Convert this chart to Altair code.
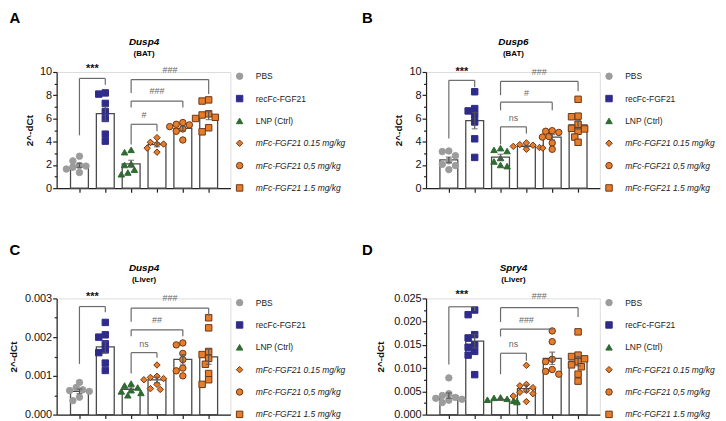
import altair as alt
import numpy as np
import pandas as pd

groups = ["PBS", "recFc-FGF21", "LNP (Ctrl)", "mFc-FGF21 0.15 mg/kg",
          "mFc-FGF21 0,5 mg/kg", "mFc-FGF21 1.5 mg/kg"]
fill_colors = ["#9c9c9c", "#2f2b8a", "#2e6b31", "#e47d2c", "#e47d2c", "#e47d2c"]
stroke_colors = ["#9c9c9c", "#2f2b8a", "#2e6b31", "#6f3614", "#6f3614", "#6f3614"]
shapes = ["circle", "square", "triangle-up", "diamond", "circle", "square"]

# ---- Panel A: Dusp4 (BAT)
a_pbs = [2.75, 2.35, 1.95, 1.9, 1.8, 1.65, 1.35]
a_rec = [8.2, 8.1, 7.3, 6.6, 6.0, 4.65, 4.05]
a_lnp = [3.3, 3.1, 2.1, 2.0, 1.6, 1.35, 1.2]
a_m015 = [4.35, 3.95, 3.8, 3.8, 3.45, 3.1]
a_m05 = [5.65, 5.5, 5.45, 5.3, 5.1, 4.9, 4.15]
a_m15 = [7.6, 7.5, 6.4, 6.3, 6.1, 6.0, 5.2, 4.85]
# bracket: group1, group2, top, left-leg end, right-leg end, label, label y
a_brackets = [(1, 2, 9.45, 4.55, 8.9, "***", 10.28),
              (3, 6, 9.35, 8.2, 8.1, "###", 10.15),
              (3, 5, 7.5, 6.95, 6.95, "###", 8.35),
              (3, 4, 5.5, 3.75, 4.9, "#", 6.3)]

# ---- Panel B: Dusp6 (BAT)
b_pbs = [3.2, 3.15, 2.8, 2.35, 2.05, 1.95, 1.6]
b_rec = [8.3, 6.85, 6.65, 6.3, 5.7, 4.25, 2.65]
b_lnp = [3.45, 3.3, 3.2, 2.6, 2.3, 2.0, 1.9]
b_m015 = [3.9, 3.75, 3.7, 3.6, 3.5, 3.45, 3.35]
b_m05 = [4.95, 4.9, 4.8, 4.45, 4.4, 3.9, 3.35]
b_m15 = [7.65, 6.2, 6.15, 5.5, 5.15, 5.1, 4.9, 4.4, 3.95]
b_brackets = [(1, 2, 9.28, 4.28, 8.68, "***", 10.0),
              (3, 6, 9.2, 8.0, 8.35, "###", 10.0),
              (3, 5, 7.4, 6.7, 6.7, "#", 8.15),
              (3, 4, 5.28, 3.77, 4.7, "ns", 6.05)]

# ---- Panel C: Dusp4 (Liver)
c_pbs = [0.00083, 0.0007, 0.00064, 0.00062, 0.0006, 0.00045, 0.00036]
c_rec = [0.00238, 0.00206, 0.002, 0.00183, 0.00167, 0.0016, 0.00133, 0.00114]
c_lnp = [0.0008, 0.00075, 0.0007, 0.00063, 0.0006, 0.00056, 0.0005]
c_m015 = [0.00128, 0.00099, 0.00096, 0.00093, 0.0009, 0.00078, 0.00067, 0.00065]
c_m05 = [0.00185, 0.0018, 0.00158, 0.00142, 0.0012, 0.00113, 0.001]
c_m15 = [0.0025, 0.00224, 0.00163, 0.00155, 0.00145, 0.0013, 0.00106, 0.0009, 0.00078]
c_brackets = [(1, 2, 0.00279, 0.00131, 0.00264, "***", 0.00303),
              (3, 6, 0.00275, 0.0024, 0.00255, "###", 0.00300),
              (3, 5, 0.00219, 0.00202, 0.00202, "##", 0.00244),
              (3, 4, 0.0016, 0.00106, 0.00147, "ns", 0.00183)]

# ---- Panel D: Spry4 (Liver)
d_pbs = [0.0079, 0.0045, 0.0041, 0.0037, 0.0035, 0.0033, 0.0031, 0.0026]
d_rec = [0.0225, 0.0215, 0.0172, 0.0165, 0.015, 0.0145, 0.0136, 0.0128, 0.0086]
d_lnp = [0.0037, 0.0036, 0.0034, 0.0032, 0.003, 0.0029, 0.0027]
d_m015 = [0.0106, 0.0065, 0.0062, 0.0058, 0.0052, 0.0048, 0.0045, 0.004, 0.0028]
d_m05 = [0.018, 0.0157, 0.0119, 0.0114, 0.0097, 0.0093, 0.0087]
d_m15 = [0.0178, 0.0128, 0.0125, 0.012, 0.0114, 0.0107, 0.0103, 0.0087, 0.0072]
d_brackets = [(1, 2, 0.0232, 0.0108, 0.0223, "***", 0.0258),
              (3, 6, 0.0230, 0.0199, 0.0210, "###", 0.0256),
              (3, 5, 0.0184, 0.0168, 0.0182, "###", 0.0203),
              (3, 4, 0.0132, 0.0087, 0.0116, "ns", 0.0152)]

PLOT_W, PLOT_H = 175, 117
X_DOMAIN = [0.31, 6.65]
AX = "#222222"


def swarm(vals, px_per_unit, dia=6.0, step=3.5):
    """Deterministic beeswarm offsets (pixels) so markers do not pile up."""
    order = sorted(range(len(vals)), key=lambda i: -vals[i])
    cands = [0.0]
    for k in range(1, 6):
        cands += [-k * step, k * step]
    placed, offs = [], [0.0] * len(vals)
    for i in order:
        ypx = vals[i] * px_per_unit
        chosen = cands[-1]
        for c in cands:
            if all((c - px) ** 2 + (ypx - py) ** 2 >= dia ** 2 for px, py in placed):
                chosen = c
                break
        placed.append((chosen, ypx))
        offs[i] = chosen
    return offs


def top_title(text, x, y, size, weight="bold", style="normal", align="center"):
    """An invisible top axis used only to carry a positioned heading."""
    return alt.Axis(orient="top", labels=False, ticks=False, domain=False, grid=False,
                    title=text, titleX=x, titleY=y, titleAngle=0, titleAlign=align,
                    titleBaseline="alphabetic", titleFontSize=size,
                    titleFontWeight=weight, titleFontStyle=style, titleColor="#000")


def panel(series, ymax, major, minor, fmt, brackets, gene, tissue, letter,
          letter_x, letter_y, title_pad):
    ppx = PLOT_W / (X_DOMAIN[1] - X_DOMAIN[0])
    ppy = PLOT_H / ymax
    prow, srow = [], []
    for gi, (g, vals) in enumerate(zip(groups, series)):
        offs = swarm(vals, ppy)
        for v, o in zip(vals, offs):
            prow.append({"group": g, "xpos": gi + 1 + o / ppx, "value": v})
        arr = np.array(vals, dtype=float)
        m = arr.mean()
        se = arr.std(ddof=1) / np.sqrt(len(arr))
        srow.append({"group": g, "xpos": gi + 1, "mean": m, "lo": m - se, "hi": m + se})
    pts = pd.DataFrame(prow)
    st = pd.DataFrame(srow)

    segs, labs = [], []
    for g1, g2, yt, yl, yr, lab, ly in brackets:
        segs += [{"x": g1, "x2": g2, "y": yt, "y2": yt},
                 {"x": g1, "x2": g1, "y": yt, "y2": yl},
                 {"x": g2, "x2": g2, "y": yt, "y2": yr}]
        labs.append({"xm": (g1 + g2) / 2, "ly": ly, "label": lab,
                     "star": lab.startswith("*")})
    segs = pd.DataFrame(segs)
    labs = pd.DataFrame(labs)

    xsc = alt.Scale(domain=X_DOMAIN, nice=False, zero=False)
    ysc = alt.Scale(domain=[0, ymax], nice=False, zero=True)

    x_axis = alt.Axis(values=[1, 2, 3, 4, 5, 6], labels=False, ticks=True, tickSize=4,
                      grid=False, title=None, domainWidth=1.2, tickWidth=1.2)
    y_axis = alt.Axis(values=major, format=fmt, tickSize=4, grid=False, title="2^-dCt",
                      titlePadding=title_pad, labelPadding=1, labelFontSize=11,
                      titleFontSize=10, titleFontWeight="bold", domainWidth=1.2,
                      tickWidth=1.2)
    y_minor = alt.Axis(values=minor, labels=False, tickSize=2.5, grid=False, domain=False,
                       title=None, orient="left", tickWidth=1.2)

    leg = alt.Legend(title=None, orient="right", offset=5, padding=0, rowPadding=11.5,
                     labelFontSize=8.5, labelColor="#222", symbolSize=42,
                     symbolStrokeWidth=1, labelOffset=12, labelLimit=250,
                     labelFontStyle={"expr": "indexof(datum.label, 'mFc') == 0 ? 'italic' : 'normal'"})

    bars = alt.Chart(st).mark_bar(size=18, fill="white", stroke="#4a4a4a", strokeWidth=1.3,
                                  orient="vertical").encode(
        x=alt.X("xpos:Q", scale=xsc, axis=x_axis),
        y=alt.Y("mean:Q", scale=ysc, axis=y_axis),
        y2=alt.datum(0),
    )
    points = alt.Chart(pts).mark_point(filled=True, size=42, opacity=1, strokeWidth=1).encode(
        x=alt.X("xpos:Q", scale=xsc, axis=None),
        y=alt.Y("value:Q", scale=ysc, axis=None),
        fill=alt.Fill("group:N", scale=alt.Scale(domain=groups, range=fill_colors), legend=leg),
        stroke=alt.Stroke("group:N", scale=alt.Scale(domain=groups, range=stroke_colors), legend=leg),
        shape=alt.Shape("group:N", scale=alt.Scale(domain=groups, range=shapes), legend=leg),
    )
    err = alt.Chart(st).mark_rule(color="#555", strokeWidth=1.2).encode(
        x=alt.X("xpos:Q", scale=xsc, axis=None),
        y=alt.Y("lo:Q", scale=ysc, axis=y_minor),
        y2="hi:Q",
    )
    cap_hi = alt.Chart(st).mark_tick(orient="horizontal", size=6, thickness=1.2, color="#555").encode(
        x=alt.X("xpos:Q", scale=xsc, axis=None),
        y=alt.Y("hi:Q", scale=ysc, axis=None),
    )
    cap_lo = alt.Chart(st).mark_tick(orient="horizontal", size=6, thickness=1.2, color="#555").encode(
        x=alt.X("xpos:Q", scale=xsc, axis=None),
        y=alt.Y("lo:Q", scale=ysc, axis=None),
    )
    br = alt.Chart(segs).mark_rule(color="#6b6b6b", strokeWidth=1.2).encode(
        x=alt.X("x:Q", scale=xsc,
                axis=top_title(gene, PLOT_W / 2, -28, 10, style="italic")),
        x2="x2:Q",
        y=alt.Y("y:Q", scale=ysc, axis=None), y2="y2:Q",
    )
    lab_star = alt.Chart(labs).transform_filter("datum.star").mark_text(
        fontSize=11, fontWeight="bold", color="#111", baseline="middle").encode(
        x=alt.X("xm:Q", scale=xsc, axis=top_title(tissue, PLOT_W / 2, -17, 8)),
        y=alt.Y("ly:Q", scale=ysc, axis=None),
        text="label:N",
    )
    lab_other = alt.Chart(labs).transform_filter("!datum.star").mark_text(
        fontSize=9, color="#666", baseline="middle").encode(
        x=alt.X("xm:Q", scale=xsc,
                axis=top_title(letter, letter_x, letter_y, 15, align="left")),
        y=alt.Y("ly:Q", scale=ysc, axis=None),
        text="label:N",
    )
    return alt.layer(bars, points, err, cap_hi, cap_lo, br, lab_star, lab_other).resolve_axis(
        x="independent", y="independent").properties(width=PLOT_W, height=PLOT_H)


pA = panel([a_pbs, a_rec, a_lnp, a_m015, a_m05, a_m15], 10, [0, 2, 4, 6, 8, 10],
           [1, 3, 5, 7, 9], "d", a_brackets, "Dusp4", "(BAT)", "A", -48, -50, 5)
pB = panel([b_pbs, b_rec, b_lnp, b_m015, b_m05, b_m15], 10, [0, 2, 4, 6, 8, 10],
           [1, 3, 5, 7, 9], "d", b_brackets, "Dusp6", "(BAT)", "B", -65, -50, 5)
pC = panel([c_pbs, c_rec, c_lnp, c_m015, c_m05, c_m15], 0.003, [0, 0.001, 0.002, 0.003],
           [0.0005, 0.0015, 0.0025], ".3f", c_brackets, "Dusp4", "(Liver)", "C", -48, -44, 5.5)
pD = panel([d_pbs, d_rec, d_lnp, d_m015, d_m05, d_m15], 0.025,
           [0, 0.005, 0.01, 0.015, 0.02, 0.025],
           [0.0025, 0.0075, 0.0125, 0.0175, 0.0225], ".3f", d_brackets, "Spry4", "(Liver)",
           "D", -65, -44, 8)

chart = alt.concat(pA, pB, pC, pD, columns=2, bounds="flush",
                   spacing={"row": 111, "column": 197}).resolve_scale(
    fill="independent", stroke="independent", shape="independent"
).properties(
    padding={"left": 0, "top": 0, "right": 2, "bottom": 0}
).configure_view(stroke=None).configure(font="Liberation Sans").configure_axis(
    domainColor=AX, tickColor=AX, labelColor="#111", titleColor="#111"
)

chart.save("out.html", embed_options={"renderer": "svg", "actions": False})
